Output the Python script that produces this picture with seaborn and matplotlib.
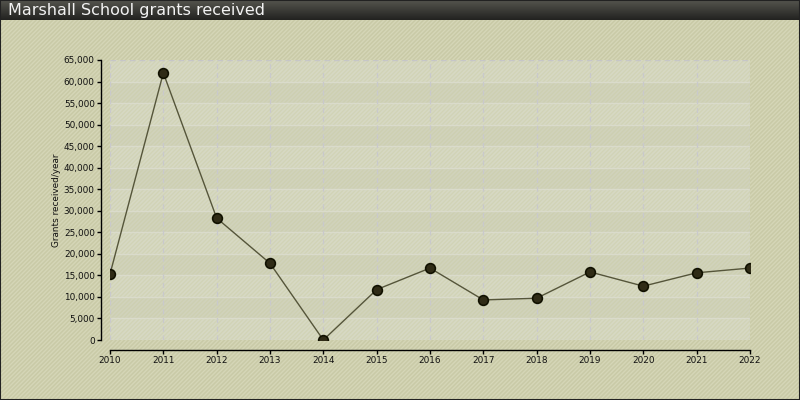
import numpy as np
import pandas as pd
import matplotlib
matplotlib.use('Agg')
import matplotlib.pyplot as plt
import seaborn as sns
from matplotlib.patches import Rectangle

# chart data
years = [2010, 2011, 2012, 2013, 2014, 2015, 2016, 2017, 2018, 2019, 2020, 2021, 2022]
grants = [15300, 62000, 28300, 17800, 0, 11700, 16700, 9300, 9700, 15800, 12500, 15600, 16700]
y_ticks = list(range(0, 65001, 5000))
title = 'Marshall School grants received'
y_label = 'Grants received/year'

df = pd.DataFrame({'year': years, 'grants': grants})

sns.set_style('white')
plt.rcParams['font.family'] = ['DejaVu Sans']
plt.rcParams['hatch.linewidth'] = 1.0

fig = plt.figure(figsize=(8, 4), dpi=100)
fig.patch.set_facecolor('#c9caa7')

# hatched background over the whole figure
bg = Rectangle((0, 0), 1, 1, transform=fig.transFigure, facecolor='#c9caa7',
               edgecolor='#d5d6b7', hatch='////////', linewidth=0, zorder=-10)
fig.patches.append(bg)

# dark title bar
bar_ax = fig.add_axes([0, 0.95, 1, 0.05])
grad = np.linspace(0, 1, 100).reshape(-1, 1)
bar_ax.imshow(grad, aspect='auto', cmap=matplotlib.colors.LinearSegmentedColormap.from_list(
    'bar', ['#55554e', '#222220']), extent=[0, 1, 0, 1])
bar_ax.set_axis_off()
bar_ax.text(0.01, 0.45, title, color='#f2f2f2', fontsize=11.5, va='center', ha='left',
            transform=bar_ax.transAxes)

ax = fig.add_axes([0.1375, 0.15, 0.8, 0.70])
ax.set_facecolor('#d4d6c0')

# alternating bands
for i, lo in enumerate(y_ticks[:-1]):
    col = '#d7d9c4' if i % 2 == 0 else '#d1d3bc'
    ax.axhspan(lo, lo + 5000, color=col, zorder=0, linewidth=0)
# light hatch over the plot area
ax.add_patch(Rectangle((0, 0), 1, 1, transform=ax.transAxes, facecolor='none',
                       edgecolor=(0.78, 0.79, 0.62, 0.35), hatch='////////',
                       linewidth=0, zorder=0.5))
for t in y_ticks[:-1]:
    ax.axhline(t, color='#dadbcb', linewidth=1, zorder=1)
ax.axhline(y_ticks[-1], color='#c6c6c8', linewidth=1, linestyle=(0, (4, 3)), zorder=1)
for yr in years:
    ax.axvline(yr, color='#c9c9cc', linewidth=0.9, linestyle=(0, (4, 3)), zorder=1)

sns.lineplot(data=df, x='year', y='grants', ax=ax, color='#55553a', linewidth=1,
             marker='o', markersize=7, markerfacecolor='#2f2b16',
             markeredgecolor='#111100', markeredgewidth=1.2, zorder=5)

ax.set_xlim(2010, 2022)
ax.set_ylim(0, 65000)
ax.set_xticks(years)
ax.set_xticklabels([str(y) for y in years])
ax.set_yticks(y_ticks)
ax.set_yticklabels([f'{t:,}' for t in y_ticks])
ax.tick_params(axis='both', labelsize=6.4, length=3, width=1, color='black',
               labelcolor='#111111', direction='out', pad=1.5, left=True, bottom=True)
ax.set_xlabel('')
ax.set_ylabel(y_label, fontsize=6.4, color='#111111')
ax.yaxis.set_label_coords(-0.077, 0.5)

for s in ['top', 'right']:
    ax.spines[s].set_visible(False)
ax.spines['left'].set_position(('outward', 6.5))
ax.spines['bottom'].set_position(('outward', 7.2))
for s in ['left', 'bottom']:
    ax.spines[s].set_color('black')
    ax.spines[s].set_linewidth(1)

# outer border
fig.patches.append(Rectangle((0, 0), 1, 1, transform=fig.transFigure, fill=False,
                             edgecolor='#222222', linewidth=1.5, zorder=10))

fig.savefig('out.png', dpi=100, facecolor=fig.get_facecolor())
